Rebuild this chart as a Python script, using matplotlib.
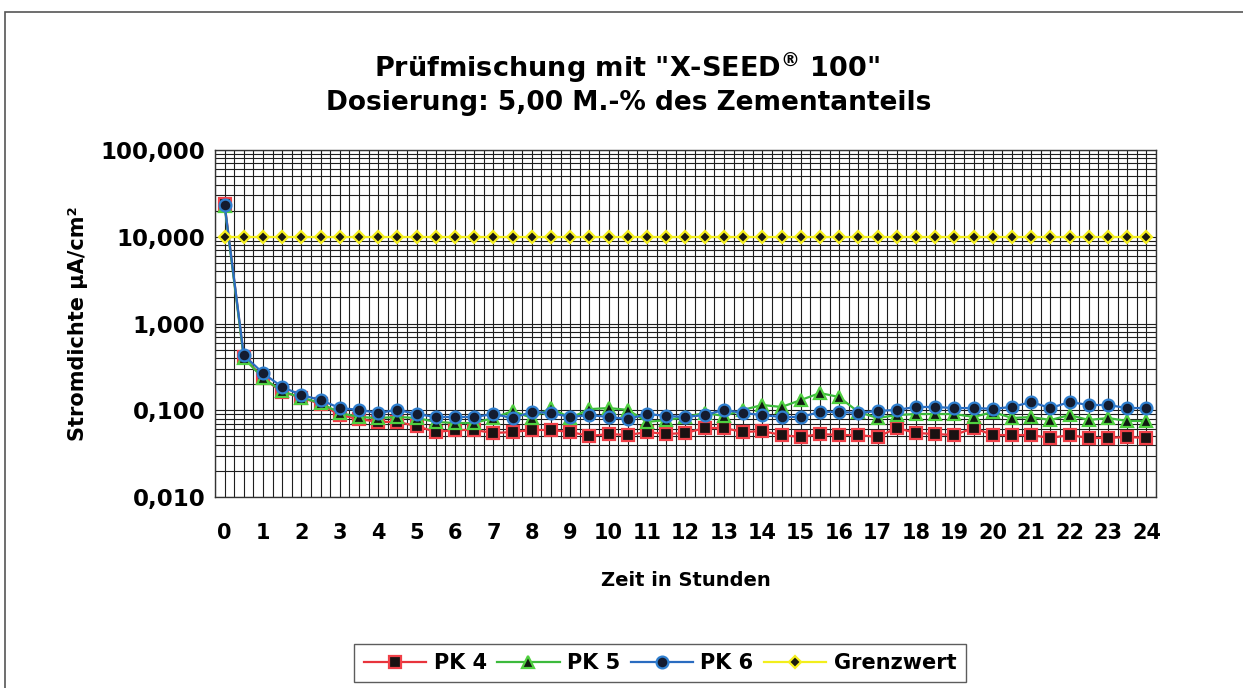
import numpy as np
import matplotlib
matplotlib.use('Agg')
import matplotlib.pyplot as plt
from matplotlib.ticker import MultipleLocator, LogLocator, FixedLocator, FuncFormatter, NullFormatter
from matplotlib.patches import Rectangle

plt.rcParams['font.family'] = ['DejaVu Sans']
plt.rcParams['font.weight'] = 'bold'

# time in hours, half-hour steps
hours = [i * 0.5 for i in range(49)]

pk4 = [24.0, 0.41, 0.235, 0.162, 0.140, 0.118, 0.088, 0.0793, 0.0733, 0.0733,
       0.0658, 0.0561, 0.0592, 0.0592, 0.0547, 0.0561, 0.0592, 0.0592, 0.0561, 0.0505,
       0.0532, 0.0518, 0.0561, 0.0532, 0.0547, 0.0624, 0.0624, 0.0561, 0.0576, 0.0518,
       0.0492, 0.0532, 0.0518, 0.0518, 0.0492, 0.0624, 0.0547, 0.0532, 0.0518, 0.0624,
       0.0518, 0.0518, 0.0518, 0.0479, 0.0518, 0.0479, 0.0479, 0.0492, 0.0479]

pk5 = [22.5, 0.40, 0.235, 0.165, 0.140, 0.121, 0.093, 0.0836, 0.0814, 0.0836,
       0.0814, 0.0733, 0.0713, 0.0713, 0.0814, 0.098, 0.0814, 0.106, 0.0814, 0.103,
       0.106, 0.101, 0.0733, 0.0772, 0.0836, 0.093, 0.0859, 0.101, 0.115, 0.109,
       0.131, 0.158, 0.142, 0.0955, 0.0814, 0.088, 0.0905, 0.0905, 0.0905, 0.0836,
       0.0955, 0.0814, 0.0836, 0.0772, 0.088, 0.0772, 0.0814, 0.0752, 0.0752]

pk6 = [23.5, 0.43, 0.268, 0.185, 0.150, 0.131, 0.106, 0.101, 0.093, 0.101,
       0.0905, 0.0836, 0.0836, 0.0836, 0.0905, 0.0814, 0.0955, 0.093, 0.0836, 0.088,
       0.0836, 0.0793, 0.0905, 0.0859, 0.0836, 0.088, 0.101, 0.093, 0.088, 0.0836,
       0.0836, 0.0955, 0.0955, 0.093, 0.098, 0.101, 0.109, 0.109, 0.106, 0.106,
       0.104, 0.109, 0.1245, 0.106, 0.1245, 0.115, 0.115, 0.106, 0.106]

grenzwert = [10.0] * 49

fig = plt.figure(figsize=(12.43, 6.88), dpi=100)
ax = fig.add_axes([215 / 1243, 1 - 497 / 688, (1156 - 215) / 1243, (497 - 150) / 688])

ax.plot(hours, pk4, color='#e8343c', lw=1.6, marker='s', ms=8.5,
        mfc='#1a1212', mec='#f04048', mew=1.6, label='PK 4', zorder=3)
ax.plot(hours, pk5, color='#3cba3c', lw=1.6, marker='^', ms=9,
        mfc='#101a10', mec='#50d040', mew=1.6, label='PK 5', zorder=4)
ax.plot(hours, pk6, color='#2a6cc0', lw=1.6, marker='o', ms=8.5,
        mfc='#141c30', mec='#3080d0', mew=1.6, label='PK 6', zorder=5)
ax.plot(hours, grenzwert, color='#f2ee1c', lw=1.6, marker='D', ms=6,
        mfc='#1a1a10', mec='#f6f020', mew=1.6, label='Grenzwert', zorder=6)

ax.set_yscale('log')
ax.set_ylim(0.01, 100)
ax.set_xlim(-0.25, 24.25)

ax.xaxis.set_major_locator(MultipleLocator(1))
ax.xaxis.set_minor_locator(MultipleLocator(0.25))
ax.yaxis.set_major_locator(FixedLocator([0.01, 0.1, 1, 10, 100]))
ax.yaxis.set_minor_locator(LogLocator(base=10, subs=np.arange(2, 10), numticks=20))
ax.yaxis.set_major_formatter(FuncFormatter(lambda v, p: f"{v:.3f}".replace('.', ',')))
ax.yaxis.set_minor_formatter(NullFormatter())
ax.xaxis.set_major_formatter(FuncFormatter(lambda v, p: f"{int(v)}"))

ax.grid(True, which='both', axis='both', color='#1e1e1e', lw=0.8)
ax.set_axisbelow(True)
ax.tick_params(axis='both', which='both', length=0)
ax.tick_params(axis='x', pad=19, labelsize=15)
ax.tick_params(axis='y', pad=7, labelsize=16.5)
for s in ax.spines.values():
    s.set_color('#333333')
    s.set_linewidth(1.0)

ax.set_xlabel('Zeit in Stunden', fontsize=14, fontweight='bold', labelpad=20)
ax.set_ylabel('Stromdichte µA/cm²', fontsize=15, fontweight='bold', labelpad=9)

fig.text(0.5 * (373 + 882) / 1243, 1 - 68 / 688, 'Prüfmischung mit "X-SEED$^{®}$ 100"',
         ha='center', va='center', fontsize=19.5, fontweight='bold')
fig.text(0.5 * (325 + 932) / 1243, 1 - 103 / 688, 'Dosierung: 5,00 M.-% des Zementanteils',
         ha='center', va='center', fontsize=19, fontweight='bold')

leg = fig.legend(loc='center', bbox_to_anchor=(660 / 1243, 1 - 663 / 688), ncol=4,
                 fontsize=15, frameon=True, fancybox=False, edgecolor='#333333',
                 handlelength=3.0, columnspacing=0.5, handletextpad=0.35, borderpad=0.45)
leg.get_frame().set_linewidth(1.0)

# outer chart frame (cut off by the scan)
fig.patches.append(Rectangle((5 / 1243, -0.1), 1.2, 1 - 12 / 688 + 0.1,
                             transform=fig.transFigure, fill=False,
                             edgecolor='#555555', lw=1.2))

fig.savefig('out.png', dpi=100)
